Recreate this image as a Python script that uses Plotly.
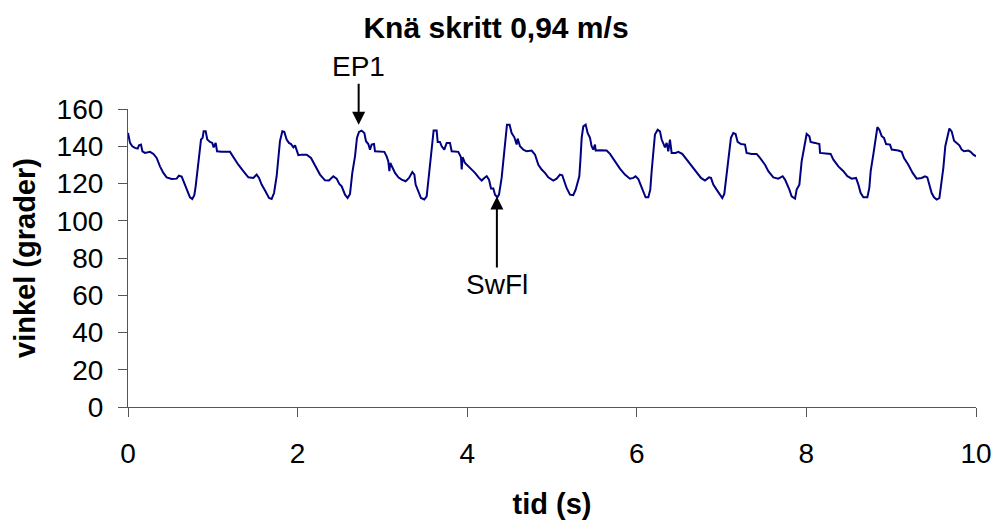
import plotly.graph_objects as go

# Time (s) and knee angle (degrees)
tid = [0.0, 0.024, 0.051, 0.082, 0.114, 0.13, 0.153, 0.17, 0.20, 0.26, 0.30, 0.338, 0.377, 0.417, 0.456,
       0.515, 0.574, 0.60, 0.633, 0.664, 0.692, 0.731, 0.758, 0.782, 0.798, 0.821, 0.837, 0.861, 0.88,
       0.892, 0.916, 0.935, 0.967, 0.994, 1.01, 1.034, 1.05, 1.104, 1.203, 1.242, 1.301, 1.36, 1.419,
       1.478, 1.517, 1.545, 1.576, 1.616, 1.663, 1.694, 1.722, 1.753, 1.773, 1.792, 1.82, 1.843, 1.871,
       1.898, 1.922, 1.95, 1.97, 1.989, 2.009, 2.048, 2.107, 2.158, 2.205, 2.264, 2.323, 2.37, 2.421,
       2.46, 2.492, 2.52, 2.559, 2.59, 2.618, 2.645, 2.677, 2.70, 2.724, 2.755, 2.787, 2.807, 2.834,
       2.854, 2.873, 2.901, 2.913, 2.972, 3.023, 3.05, 3.07, 3.082, 3.094, 3.117, 3.149, 3.188, 3.227,
       3.274, 3.314, 3.353, 3.377, 3.392, 3.424, 3.455, 3.494, 3.522, 3.541, 3.561, 3.581, 3.593, 3.604,
       3.64, 3.652, 3.679, 3.699, 3.73, 3.758, 3.797, 3.817, 3.895, 3.927, 3.935, 3.946, 3.974, 4.033,
       4.092, 4.139, 4.17, 4.202, 4.23, 4.257, 4.281, 4.308, 4.328, 4.355, 4.375, 4.406, 4.426, 4.446,
       4.457, 4.469, 4.5, 4.524, 4.556, 4.583, 4.595, 4.623, 4.662, 4.701, 4.76, 4.8, 4.839, 4.878,
       4.917, 4.956, 5.015, 5.055, 5.094, 5.121, 5.145, 5.172, 5.212, 5.251, 5.279, 5.302, 5.322, 5.334,
       5.35, 5.369, 5.397, 5.42, 5.448, 5.467, 5.487, 5.507, 5.515, 5.566, 5.644, 5.684, 5.742, 5.801,
       5.86, 5.919, 5.959, 5.986, 6.018, 6.049, 6.077, 6.104, 6.136, 6.159, 6.175, 6.195, 6.214, 6.246,
       6.273, 6.293, 6.312, 6.332, 6.352, 6.371, 6.391, 6.411, 6.458, 6.489, 6.536, 6.588, 6.647, 6.706,
       6.757, 6.804, 6.851, 6.875, 6.902, 6.941, 6.981, 7.008, 7.032, 7.047, 7.063, 7.087, 7.11, 7.138,
       7.165, 7.189, 7.228, 7.276, 7.295, 7.354, 7.413, 7.453, 7.512, 7.551, 7.61, 7.669, 7.72, 7.748,
       7.775, 7.799, 7.826, 7.866, 7.885, 7.917, 7.944, 7.964, 7.984, 8.003, 8.035, 8.05, 8.101, 8.153,
       8.161, 8.239, 8.286, 8.318, 8.377, 8.436, 8.483, 8.534, 8.585, 8.613, 8.64, 8.672, 8.719, 8.742,
       8.758, 8.789, 8.813, 8.837, 8.86, 8.888, 8.915, 8.939, 8.986, 9.006, 9.084, 9.124, 9.151, 9.202,
       9.253, 9.3, 9.359, 9.399, 9.426, 9.45, 9.477, 9.505, 9.536, 9.568, 9.595, 9.615, 9.638, 9.662,
       9.686, 9.713, 9.741, 9.772, 9.804, 9.831, 9.859, 9.909, 9.937, 9.969, 10.0]

vinkel = [147.1, 141.8, 140.0, 139.1, 138.7, 140.5, 140.9, 137.3, 136.4, 137.0, 135.9, 133.7, 129.2, 125.7, 123.3,
          122.4, 122.6, 124.2, 123.7, 120.3, 116.7, 112.6, 111.7, 113.7, 118.5, 128.4, 134.6, 143.6, 144.5,
          148.0, 148.0, 143.6, 142.3, 141.8, 139.4, 141.8, 137.3, 137.0, 137.0, 134.1, 130.1, 126.6, 123.3,
          123.0, 124.8, 123.0, 119.4, 116.2, 112.2, 111.7, 114.9, 123.9, 132.8, 142.7, 148.0, 147.7, 143.6,
          141.8, 141.2, 139.4, 140.5, 137.3, 135.2, 135.5, 135.5, 133.7, 130.1, 124.8, 121.7, 121.6, 123.9,
          122.6, 119.8, 118.5, 114.0, 112.2, 114.4, 125.7, 134.6, 144.5, 147.7, 148.4, 147.1, 142.7, 141.2,
          138.2, 140.9, 141.2, 137.3, 137.3, 137.0, 134.6, 131.9, 126.6, 131.0, 128.7, 125.7, 123.3, 122.1,
          121.2, 123.0, 126.2, 124.8, 119.4, 116.2, 112.2, 111.4, 113.1, 121.2, 130.1, 135.5, 142.7, 148.4,
          148.4, 142.3, 142.3, 140.0, 138.2, 141.8, 141.8, 137.3, 137.0, 134.1, 127.5, 134.1, 131.0, 128.4,
          125.7, 123.0, 121.6, 123.0, 123.9, 122.1, 117.3, 117.3, 114.0, 112.6, 114.0, 123.0, 131.9, 139.1,
          144.5, 151.6, 151.6, 147.1, 144.8, 140.9, 144.1, 140.0, 138.2, 137.3, 137.7, 135.5, 130.1, 127.5,
          125.7, 123.3, 121.6, 122.6, 124.8, 124.4, 121.2, 117.6, 114.0, 113.7, 116.7, 121.2, 123.9, 131.9,
          144.5, 150.7, 151.6, 147.1, 144.5, 140.0, 138.2, 140.9, 137.7, 137.8, 137.7, 135.9, 131.9, 128.0,
          124.8, 122.6, 123.0, 123.9, 122.4, 118.5, 114.9, 112.6, 112.6, 116.7, 126.6, 137.3, 146.3, 148.9,
          148.0, 143.6, 141.2, 139.4, 141.8, 137.3, 143.6, 136.4, 136.4, 137.0, 135.9, 132.8, 129.2, 125.7,
          123.0, 121.6, 123.3, 123.0, 119.4, 116.7, 113.7, 112.2, 114.4, 120.3, 128.4, 136.4, 144.5, 147.1,
          146.6, 142.3, 141.2, 140.9, 136.4, 135.9, 135.9, 133.7, 130.1, 126.6, 123.3, 122.6, 123.9, 122.1,
          119.4, 116.7, 113.1, 111.9, 116.7, 119.4, 131.9, 137.3, 143.6, 146.6, 145.4, 142.3, 141.8, 141.2,
          136.4, 135.9, 135.9, 132.8, 129.2, 126.6, 123.9, 122.6, 123.0, 119.4, 114.9, 112.6, 112.6, 117.6,
          126.6, 135.5, 144.5, 150.2, 148.9, 145.4, 144.5, 141.2, 140.9, 138.2, 137.7, 137.0, 133.7, 130.1,
          125.7, 122.6, 123.0, 123.9, 123.3, 119.4, 114.9, 112.6, 111.4, 112.2, 120.3, 128.4, 140.0, 145.4,
          149.5, 148.0, 143.0, 141.8, 140.5, 138.2, 137.3, 137.7, 137.0, 135.5, 134.6]

x_ticks = [0, 2, 4, 6, 8, 10]
y_ticks = [0, 20, 40, 60, 80, 100, 120, 140, 160]

# annotation targets (data units)
ep1_x, ep1_y = 2.72, 151.5
swfl_x, swfl_y = 4.35, 113.0

FONT = "Arial, Liberation Sans, sans-serif"

fig = go.Figure()
fig.add_trace(go.Scatter(x=tid, y=vinkel, mode="lines",
                         line=dict(color="#000080", width=2), showlegend=False))

fig.add_annotation(x=ep1_x, y=ep1_y, text="EP1", showarrow=True, ax=0, ay=-58,
                   arrowhead=2, arrowsize=1.3, arrowwidth=2, arrowcolor="black",
                   font=dict(family=FONT, size=28, color="black"))
fig.add_annotation(x=swfl_x, y=swfl_y, text="SwFl", showarrow=True, ax=0, ay=88,
                   arrowhead=2, arrowsize=1.3, arrowwidth=2, arrowcolor="black",
                   font=dict(family=FONT, size=28, color="black"))

fig.update_layout(
    width=995, height=520,
    margin=dict(l=128, r=19, t=109, b=113),
    paper_bgcolor="white", plot_bgcolor="white",
    font=dict(family=FONT, size=28, color="black"),
    title=dict(text="<b>Knä skritt 0,94 m/s</b>", x=0.4985, xref="container", xanchor="center",
               y=0.948, yref="container", yanchor="middle",
               font=dict(family=FONT, size=30, color="black")),
    xaxis=dict(range=[0, 10], tickvals=x_ticks, showgrid=False, zeroline=False,
               automargin=False,
               showline=True, linecolor="#555555", linewidth=1.2,
               ticks="outside", ticklen=9, tickcolor="#555555", tickwidth=1.2,
               ticklabelstandoff=12,
               tickfont=dict(family=FONT, size=28, color="black"),
               title=dict(text="<b>tid (s)</b>", standoff=30,
                          font=dict(family=FONT, size=29, color="black"))),
    yaxis=dict(range=[0, 160], tickvals=y_ticks, showgrid=False, zeroline=False,
               automargin=False,
               showline=True, linecolor="#555555", linewidth=1.2,
               ticks="outside", ticklen=9, tickcolor="#555555", tickwidth=1.2,
               ticklabelstandoff=9,
               tickfont=dict(family=FONT, size=28, color="black"),
               title=dict(text="<b>vinkel (grader)</b>", standoff=12,
                          font=dict(family=FONT, size=29, color="black"))),
)

fig.write_html("out.html")
